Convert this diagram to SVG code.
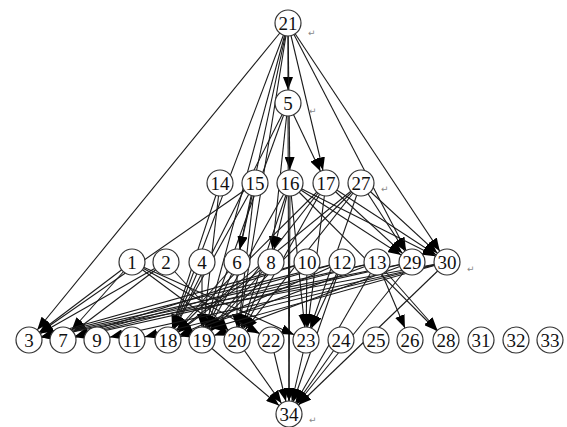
<svg xmlns="http://www.w3.org/2000/svg" width="567" height="427" viewBox="0 0 567 427">
<style>
.e line{stroke:#1a1a1a;stroke-width:1.1;marker-end:url(#a)}
.n circle{fill:#fff;stroke:#333;stroke-width:1.2}
.n text{font-family:"Liberation Serif",serif;font-size:19px;fill:#111;text-anchor:middle;dominant-baseline:central}
.r{font-family:"DejaVu Sans",sans-serif;font-size:9px;fill:#888}
</style>
<defs>
<marker id="a" markerUnits="userSpaceOnUse" markerWidth="14" markerHeight="10" refX="26" refY="5" orient="auto"><path d="M0,0L13,5L0,10z" fill="#000"/></marker>
</defs>
<rect width="567" height="427" fill="#fff"/>
<g class="e" id="connectors">
<line x1="288" y1="23" x2="288" y2="103"/>
<line x1="288" y1="23" x2="290" y2="183"/>
<line x1="288" y1="23" x2="326" y2="183"/>
<line x1="288" y1="23" x2="412" y2="262"/>
<line x1="288" y1="23" x2="447" y2="262"/>
<line x1="288" y1="23" x2="29" y2="340"/>
<line x1="288" y1="23" x2="168" y2="340"/>
<line x1="288" y1="23" x2="202" y2="340"/>
<line x1="288" y1="23" x2="237" y2="262"/>
<line x1="288" y1="23" x2="237" y2="340"/>
<line x1="288" y1="103" x2="326" y2="183"/>
<line x1="288" y1="103" x2="289" y2="414"/>
<line x1="288" y1="103" x2="168" y2="340"/>
<line x1="288" y1="103" x2="202" y2="340"/>
<line x1="288" y1="103" x2="271" y2="262"/>
<line x1="220" y1="183" x2="168" y2="340"/>
<line x1="220" y1="183" x2="202" y2="340"/>
<line x1="255" y1="183" x2="237" y2="262"/>
<line x1="255" y1="183" x2="168" y2="340"/>
<line x1="255" y1="183" x2="237" y2="340"/>
<line x1="255" y1="183" x2="29" y2="340"/>
<line x1="290" y1="183" x2="271" y2="262"/>
<line x1="290" y1="183" x2="306" y2="340"/>
<line x1="290" y1="183" x2="289" y2="414"/>
<line x1="290" y1="183" x2="412" y2="262"/>
<line x1="290" y1="183" x2="447" y2="262"/>
<line x1="290" y1="183" x2="446" y2="340"/>
<line x1="290" y1="183" x2="202" y2="340"/>
<line x1="290" y1="183" x2="237" y2="340"/>
<line x1="326" y1="183" x2="412" y2="262"/>
<line x1="326" y1="183" x2="447" y2="262"/>
<line x1="326" y1="183" x2="202" y2="340"/>
<line x1="326" y1="183" x2="237" y2="340"/>
<line x1="326" y1="183" x2="306" y2="340"/>
<line x1="326" y1="183" x2="168" y2="340"/>
<line x1="361" y1="183" x2="412" y2="262"/>
<line x1="361" y1="183" x2="447" y2="262"/>
<line x1="361" y1="183" x2="237" y2="340"/>
<line x1="361" y1="183" x2="306" y2="340"/>
<line x1="361" y1="183" x2="168" y2="340"/>
<line x1="361" y1="183" x2="202" y2="340"/>
<line x1="132" y1="262" x2="29" y2="340"/>
<line x1="132" y1="262" x2="63" y2="340"/>
<line x1="132" y1="262" x2="237" y2="340"/>
<line x1="132" y1="262" x2="271" y2="340"/>
<line x1="132" y1="262" x2="306" y2="340"/>
<line x1="166" y1="262" x2="29" y2="340"/>
<line x1="166" y1="262" x2="63" y2="340"/>
<line x1="166" y1="262" x2="237" y2="340"/>
<line x1="202" y1="262" x2="168" y2="340"/>
<line x1="202" y1="262" x2="202" y2="340"/>
<line x1="237" y1="262" x2="168" y2="340"/>
<line x1="237" y1="262" x2="237" y2="340"/>
<line x1="237" y1="262" x2="202" y2="340"/>
<line x1="271" y1="262" x2="202" y2="340"/>
<line x1="271" y1="262" x2="237" y2="340"/>
<line x1="271" y1="262" x2="168" y2="340"/>
<line x1="307" y1="262" x2="306" y2="340"/>
<line x1="307" y1="262" x2="29" y2="340"/>
<line x1="307" y1="262" x2="63" y2="340"/>
<line x1="342" y1="262" x2="29" y2="340"/>
<line x1="342" y1="262" x2="63" y2="340"/>
<line x1="342" y1="262" x2="168" y2="340"/>
<line x1="342" y1="262" x2="289" y2="414"/>
<line x1="342" y1="262" x2="306" y2="340"/>
<line x1="377" y1="262" x2="29" y2="340"/>
<line x1="377" y1="262" x2="63" y2="340"/>
<line x1="377" y1="262" x2="410" y2="340"/>
<line x1="377" y1="262" x2="446" y2="340"/>
<line x1="377" y1="262" x2="168" y2="340"/>
<line x1="377" y1="262" x2="289" y2="414"/>
<line x1="412" y1="262" x2="29" y2="340"/>
<line x1="412" y1="262" x2="63" y2="340"/>
<line x1="412" y1="262" x2="289" y2="414"/>
<line x1="412" y1="262" x2="202" y2="340"/>
<line x1="447" y1="262" x2="29" y2="340"/>
<line x1="447" y1="262" x2="97" y2="340"/>
<line x1="447" y1="262" x2="132" y2="340"/>
<line x1="447" y1="262" x2="289" y2="414"/>
<line x1="447" y1="262" x2="168" y2="340"/>
<line x1="202" y1="340" x2="289" y2="414"/>
<line x1="237" y1="340" x2="289" y2="414"/>
<line x1="271" y1="340" x2="289" y2="414"/>
<line x1="306" y1="340" x2="289" y2="414"/>
<line x1="341" y1="340" x2="289" y2="414"/>
</g>
<g class="n" id="n21"><circle cx="288" cy="23" r="13"/><text x="288" y="23">21</text></g>
<g class="n" id="n5"><circle cx="288" cy="103" r="13"/><text x="288" y="103">5</text></g>
<g class="n" id="n14"><circle cx="220" cy="183" r="13"/><text x="220" y="183">14</text></g>
<g class="n" id="n15"><circle cx="255" cy="183" r="13"/><text x="255" y="183">15</text></g>
<g class="n" id="n16"><circle cx="290" cy="183" r="13"/><text x="290" y="183">16</text></g>
<g class="n" id="n17"><circle cx="326" cy="183" r="13"/><text x="326" y="183">17</text></g>
<g class="n" id="n27"><circle cx="361" cy="183" r="13"/><text x="361" y="183">27</text></g>
<g class="n" id="n1"><circle cx="132" cy="262" r="13"/><text x="132" y="262">1</text></g>
<g class="n" id="n2"><circle cx="166" cy="262" r="13"/><text x="166" y="262">2</text></g>
<g class="n" id="n4"><circle cx="202" cy="262" r="13"/><text x="202" y="262">4</text></g>
<g class="n" id="n6"><circle cx="237" cy="262" r="13"/><text x="237" y="262">6</text></g>
<g class="n" id="n8"><circle cx="271" cy="262" r="13"/><text x="271" y="262">8</text></g>
<g class="n" id="n10"><circle cx="307" cy="262" r="13"/><text x="307" y="262">10</text></g>
<g class="n" id="n12"><circle cx="342" cy="262" r="13"/><text x="342" y="262">12</text></g>
<g class="n" id="n13"><circle cx="377" cy="262" r="13"/><text x="377" y="262">13</text></g>
<g class="n" id="n29"><circle cx="412" cy="262" r="13"/><text x="412" y="262">29</text></g>
<g class="n" id="n30"><circle cx="447" cy="262" r="13"/><text x="447" y="262">30</text></g>
<g class="n" id="n3"><circle cx="29" cy="340" r="13"/><text x="29" y="340">3</text></g>
<g class="n" id="n7"><circle cx="63" cy="340" r="13"/><text x="63" y="340">7</text></g>
<g class="n" id="n9"><circle cx="97" cy="340" r="13"/><text x="97" y="340">9</text></g>
<g class="n" id="n11"><circle cx="132" cy="340" r="13"/><text x="132" y="340">11</text></g>
<g class="n" id="n18"><circle cx="168" cy="340" r="13"/><text x="168" y="340">18</text></g>
<g class="n" id="n19"><circle cx="202" cy="340" r="13"/><text x="202" y="340">19</text></g>
<g class="n" id="n20"><circle cx="237" cy="340" r="13"/><text x="237" y="340">20</text></g>
<g class="n" id="n22"><circle cx="271" cy="340" r="13"/><text x="271" y="340">22</text></g>
<g class="n" id="n23"><circle cx="306" cy="340" r="13"/><text x="306" y="340">23</text></g>
<g class="n" id="n24"><circle cx="341" cy="340" r="13"/><text x="341" y="340">24</text></g>
<g class="n" id="n25"><circle cx="376" cy="340" r="13"/><text x="376" y="340">25</text></g>
<g class="n" id="n26"><circle cx="410" cy="340" r="13"/><text x="410" y="340">26</text></g>
<g class="n" id="n28"><circle cx="446" cy="340" r="13"/><text x="446" y="340">28</text></g>
<g class="n" id="n31"><circle cx="481" cy="340" r="13"/><text x="481" y="340">31</text></g>
<g class="n" id="n32"><circle cx="516" cy="340" r="13"/><text x="516" y="340">32</text></g>
<g class="n" id="n33"><circle cx="550" cy="340" r="13"/><text x="550" y="340">33</text></g>
<g class="n" id="n34"><circle cx="289" cy="414" r="13"/><text x="289" y="414">34</text></g>
<text class="r" x="308" y="36">↵</text>
<text class="r" x="309" y="114">↵</text>
<text class="r" x="381" y="192">↵</text>
<text class="r" x="467" y="272">↵</text>
<text class="r" x="309" y="423">↵</text>
</svg>
